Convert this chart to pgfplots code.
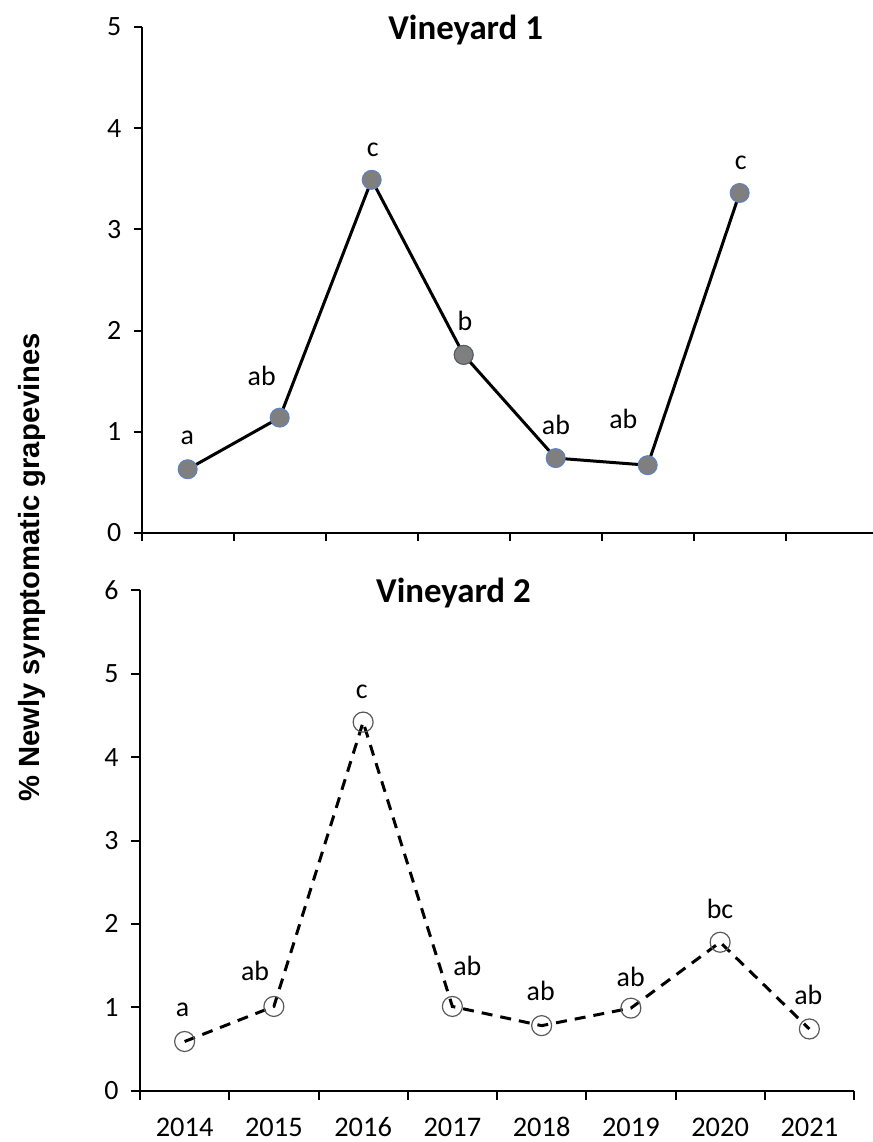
\documentclass[border=0pt]{standalone}
\usepackage{fontspec}
\setmainfont{Carlito}
\newfontfamily\arialfont{Liberation Sans}
\usepackage{pgfplots}
\pgfplotsset{compat=1.18}

\definecolor{mkfill}{HTML}{7F7F7F}
\definecolor{mkedge}{HTML}{5B82C8}
\definecolor{mkedge2}{HTML}{595959}

\pgfplotsset{
  myaxis/.style={
    scale only axis,
    axis x line=bottom, axis y line=left,
    axis line style={line width=2bp, -},
    tick style={line width=2bp, black},
    tick align=outside,
    major tick length=8bp,
    xmin=0, ymin=0,
    /pgf/number format/assume math mode=true,
    yticklabel style={font=\fontsize{28}{28}\selectfont, xshift=-9bp},
    xticklabel style={font=\fontsize{28.5}{28.5}\selectfont, text height=20bp, text depth=0bp, yshift=-13bp},
    clip=false,
  },
}
\tikzset{
  lab/.style={anchor=base, font=\fontsize{28}{28}\selectfont},
  ttl/.style={anchor=base, font=\bfseries\fontsize{35}{35}\selectfont},
}

\pgfplotstableread{
x y
0.5 0.63
1.5 1.14
2.5 3.49
3.5 1.76
4.5 0.74
5.5 0.67
6.5 3.36
}\vone

\pgfplotstableread{
x y
0.5 0.59
1.5 1.01
2.5 4.42
3.5 1.01
4.5 0.78
5.5 0.99
6.5 1.78
7.5 0.74
}\vtwo

\begin{document}
\begin{tikzpicture}
\path[use as bounding box] (0,0) rectangle (873bp,1142bp);

% Vineyard 1
\begin{axis}[myaxis,
  at={(141.7bp,609bp)}, anchor=south west,
  width=731.3bp, height=506bp,
  xmax=7.949, ymax=5,
  xtick={0,...,7}, xticklabels={},
  ytick={0,...,5},
]
\addplot[black, line width=3bp, mark=*, mark size=9.5bp,
  mark options={fill=mkfill, draw=mkedge, line width=1bp}] table[x=x,y=y] {\vone};
\addplot[only marks, mark=*, mark size=9.5bp,
  mark options={fill=mkfill, draw=mkedge2, line width=1bp}] coordinates {(3.5,1.76)};
\node[ttl] at (rel axis cs:0.443,0.9757) {Vineyard 1};
\node[lab] at (axis cs:0.496,0.870) {a};
\node[lab] at (axis cs:1.304,1.453) {ab};
\node[lab] at (axis cs:2.511,3.725) {c};
\node[lab] at (axis cs:3.514,1.996) {b};
\node[lab] at (axis cs:4.503,0.975) {ab};
\node[lab] at (axis cs:5.235,1.035) {ab};
\node[lab] at (axis cs:6.511,3.587) {c};
\end{axis}

% Vineyard 2
\begin{axis}[myaxis,
  at={(140bp,51.3bp)}, anchor=south west,
  width=714bp, height=500.4bp,
  xmax=8, ymax=6,
  xtick={0,...,8}, x tick label as interval,
  xticklabels={2014,2015,2016,2017,2018,2019,2020,2021},
  major tick length=9bp,
  ytick={0,...,6},
]
\addplot[black, line width=3bp, dash pattern=on 11bp off 8bp, mark=o, mark size=10bp,
  mark options={draw=mkedge2, line width=1.2bp, solid}] table[x=x,y=y] {\vtwo};
\node[ttl] at (rel axis cs:0.439,0.975) {Vineyard 2};
\node[lab] at (axis cs:0.478,0.884) {a};
\node[lab] at (axis cs:1.289,1.319) {ab};
\node[lab] at (axis cs:2.484,4.705) {c};
\node[lab] at (axis cs:3.667,1.387) {ab};
\node[lab] at (axis cs:4.490,1.079) {ab};
\node[lab] at (axis cs:5.498,1.255) {ab};
\node[lab] at (axis cs:6.499,2.067) {bc};
\node[lab] at (axis cs:7.488,1.028) {ab};
\end{axis}

\node[rotate=90, anchor=base, font=\arialfont\bfseries\fontsize{29.3}{30}\selectfont]
  at (39.3bp,574.5bp) {\% Newly symptomatic grapevines};
\end{tikzpicture}
\end{document}
